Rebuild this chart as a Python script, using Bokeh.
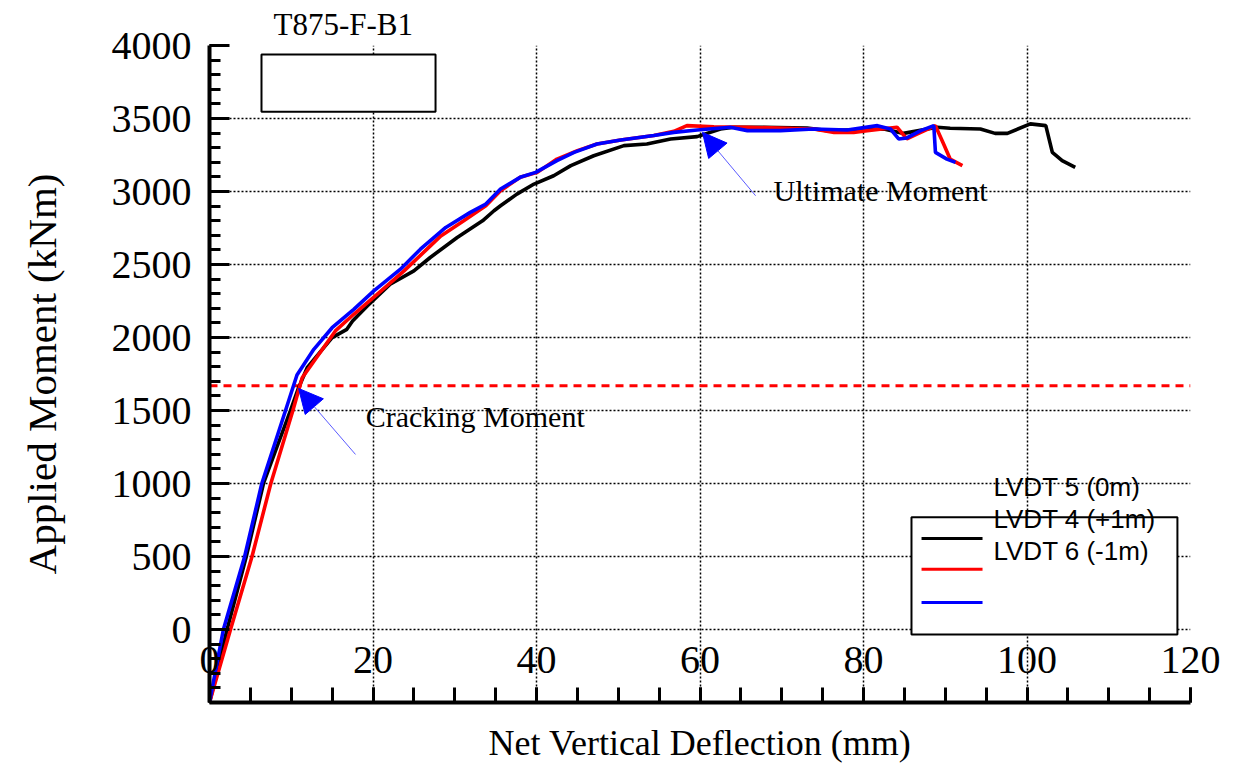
from bokeh.plotting import figure
from bokeh.models import (FixedTicker, Arrow, NormalHead, Range1d)
from bokeh.core.properties import value
from bokeh.embed import file_html
from bokeh.resources import INLINE

# ---------------- data ----------------
lvdt5_x = [0, 2.15, 4.5, 6.6, 9.9, 10.9, 11.95, 15.0, 16.8, 17.5, 19.3, 22.1, 25.0, 27.0, 30.3,
           33.4, 34.8, 35.6, 37.6, 39.7, 42.1, 44.2, 47.0, 50.7, 53.5, 56.4, 59.65, 62.5, 64.1,
           67.8, 73.1, 75.6, 78.0, 82.5, 84.9, 89.0, 90.6, 94.3, 96.1, 97.6, 100.4, 102.3,
           103.1, 104.3, 105.9]
lvdt5_y = [-500, 0, 500, 1000, 1500, 1656, 1793, 1999, 2056, 2113, 2216, 2365, 2456, 2548, 2685,
           2799, 2868, 2902, 2982, 3051, 3108, 3177, 3245, 3314, 3325, 3360, 3376, 3428, 3440,
           3440, 3435, 3417, 3421, 3428, 3398, 3440, 3433, 3428, 3398, 3398, 3463, 3451,
           3268, 3211, 3165]

lvdt4_x = [0, 2.57, 5.2, 7.5, 10.2, 11.34, 15.4, 17.65, 20.5, 23.8, 26.6, 28.3, 31.1, 33.8, 35.6,
           38.0, 40.1, 42.5, 45.0, 47.4, 50.3, 54.35, 56.8, 58.4, 61.7, 65.8, 73.9, 76.4, 78.8,
           80.45, 84.1, 85.3, 86.6, 88.8, 89.8, 90.6, 92.1]
lvdt4_y = [-500, 0, 500, 1000, 1500, 1724, 2045, 2159, 2296, 2456, 2605, 2696, 2799, 2902, 3005,
           3097, 3131, 3222, 3280, 3325, 3353, 3383, 3412, 3451, 3444, 3440, 3428, 3405, 3405,
           3417, 3440, 3360, 3394, 3451, 3325, 3222, 3177]

lvdt6_x = [0, 1.7, 4.3, 6.4, 9.3, 10.7, 12.76, 15.0, 17.65, 20.1, 23.36, 25.8, 28.9, 31.9, 33.8,
           35.6, 38.0, 39.9, 42.5, 44.6, 47.4, 50.3, 54.35, 56.8, 59.65, 63.7, 65.8, 69.85, 73.9,
           78.0, 81.7, 83.3, 84.3, 85.3, 87.0, 88.6, 88.8, 90.2, 91.25]
lvdt6_y = [-500, 0, 500, 1000, 1500, 1743, 1919, 2067, 2193, 2319, 2468, 2605, 2754, 2857, 2914,
           3017, 3097, 3131, 3211, 3268, 3325, 3353, 3383, 3405, 3421, 3440, 3417, 3417, 3428,
           3421, 3451, 3428, 3360, 3367, 3417, 3451, 3268, 3222, 3199]

series_names = ["LVDT 5 (0m)", "LVDT 4 (+1m)", "LVDT 6 (-1m)"]
series_colors = ["black", "red", "blue"]

cracking_moment = 1670

x_ticks = [0, 20, 40, 60, 80, 100, 120]
x_minor = list(range(0, 121, 5))
y_ticks = [0, 500, 1000, 1500, 2000, 2500, 3000, 3500, 4000]
y_minor = list(range(-500, 4001, 100))

SERIF = "Liberation Serif"
SANS = "Liberation Sans"

# ---------------- figure ----------------
p = figure(frame_width=981, frame_height=657, output_backend="svg", toolbar_location=None,
           x_range=Range1d(0, 120), y_range=Range1d(-500, 4000),
           min_border_left=209, min_border_right=50, min_border_top=45, min_border_bottom=10)
p.outline_line_color = None
p.background_fill_color = "white"

p.title.text = "T875-F-B1"
p.title.text_font = SERIF
p.title.text_font_style = "normal"
p.title.text_font_size = "31px"
p.title.text_color = "black"
p.title.align = "left"
p.title.offset = 64
p.title.standoff = 7

# axes
xa = p.xaxis[0]
xa.ticker = FixedTicker(ticks=x_ticks, minor_ticks=x_minor)
xa.axis_label = "Net Vertical Deflection (mm)"
ya = p.yaxis[0]
ya.ticker = FixedTicker(ticks=y_ticks, minor_ticks=y_minor)
ya.axis_label = "Applied Moment (kNm)"

for ax in (xa, ya):
    ax.axis_line_width = 4
    ax.axis_line_color = "black"
    ax.major_tick_line_width = 3
    ax.minor_tick_line_width = 3
    ax.major_tick_line_color = "black"
    ax.minor_tick_line_color = "black"
    ax.major_tick_out = 0
    ax.minor_tick_out = 0
    ax.major_label_text_font = SERIF
    ax.major_label_text_font_size = "40px"
    ax.major_label_text_color = "black"
    ax.axis_label_text_font = SERIF
    ax.axis_label_text_font_style = "normal"
    ax.axis_label_text_color = "black"

xa.major_tick_in = 15
xa.minor_tick_in = 15
xa.major_label_standoff = -56
xa.axis_label_text_font_size = "36px"
xa.axis_label_standoff = 47

ya.major_tick_in = 20
ya.minor_tick_in = 11
ya.major_label_standoff = 18
ya.axis_label_text_font_size = "41px"
ya.axis_label_standoff = 44

for g in (p.xgrid[0], p.ygrid[0]):
    g.grid_line_color = "black"
    g.grid_line_dash = "2 2"
    g.grid_line_width = 1.5
p.xgrid[0].ticker = FixedTicker(ticks=x_ticks)
p.ygrid[0].ticker = FixedTicker(ticks=y_ticks)

# empty box at top-left
p.quad(left=[6.36], right=[27.65], bottom=[3547], top=[3938],
       fill_color="white", line_color="black", line_width=2)

# cracking moment line
p.line(x=[0, 120], y=[cracking_moment, cracking_moment], line_color="red",
       line_width=3, line_dash="8 6")

# curves
for xs, ys, c in zip([lvdt5_x, lvdt4_x, lvdt6_x], [lvdt5_y, lvdt4_y, lvdt6_y], series_colors):
    p.line(x=xs, y=ys, line_color=c, line_width=3.6)

# annotations: arrows + labels
p.add_layout(Arrow(end=NormalHead(size=24, fill_color="blue", line_color="blue"),
                   x_start=17.86, y_start=1199, x_end=10.9, y_end=1651,
                   line_color="#5b5bff", line_width=1))
p.add_layout(Arrow(end=NormalHead(size=24, fill_color="blue", line_color="blue"),
                   x_start=66.8, y_start=2971, x_end=60.3, y_end=3405,
                   line_color="#5b5bff", line_width=1))
p.text(x=[19.1, 69.0], y=[1461, 3005], text=["Cracking Moment", "Ultimate Moment"],
       text_font=value(SERIF), text_font_size="30px", text_baseline="middle",
       text_align="left", text_color="black")

# legend (manual)
p.quad(left=[85.87], right=[118.4], bottom=[-34], top=[768],
       fill_color="white", line_color="black", line_width=2)
leg_line_y = [624, 412, 185]
for yy, c in zip(leg_line_y, series_colors):
    p.line(x=[87.1, 94.56], y=[yy, yy], line_color=c, line_width=3)
p.text(x=[95.9, 95.9, 95.9], y=[974, 755, 535], text=series_names,
       text_font=value(SANS), text_font_size="26px", text_baseline="middle",
       text_align="left", text_color="black")

open("out.html", "w").write(file_html(p, INLINE))
